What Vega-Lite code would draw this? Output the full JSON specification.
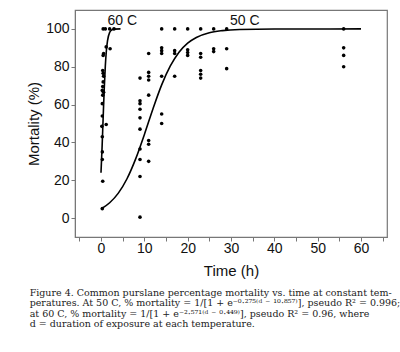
{
  "$schema": "https://vega.github.io/schema/vega-lite/v6.json",
  "width": 312,
  "height": 227,
  "autosize": {"type": "none"},
  "padding": {"left": 75, "top": 10, "right": 13, "bottom": 115},
  "background": "white",
  "config": {
    "view": {"stroke": "#777", "strokeWidth": 1.2},
    "font": "Liberation Sans"
  },
  "title": {
    "text": [
      "Figure 4. Common purslane percentage mortality vs. time at constant tem-",
      "peratures. At 50 C, % mortality = 1/[1 + e⁻⁰·²⁷⁵⁽ᵈ ⁻ ¹⁰·⁸⁵⁷⁾], pseudo R² = 0.996;",
      "at 60 C, % mortality = 1/[1 + e⁻²·⁵⁷¹⁽ᵈ ⁻ ⁰·⁴⁴⁹⁾], pseudo R² = 0.96, where",
      "d = duration of exposure at each temperature."
    ],
    "orient": "bottom",
    "anchor": "start",
    "frame": "bounds",
    "font": "DejaVu Serif",
    "fontSize": 9.5,
    "fontWeight": "normal",
    "lineHeight": 10.3,
    "color": "#222",
    "offset": 10,
    "dx": 3
  },
  "datasets": {
    "points": [
      {"time": 0.3, "mortality": 5, "temp": "50 C"},
      {"time": 9, "mortality": 74, "temp": "50 C"},
      {"time": 9, "mortality": 62, "temp": "50 C"},
      {"time": 9, "mortality": 60.5, "temp": "50 C"},
      {"time": 9, "mortality": 57.5, "temp": "50 C"},
      {"time": 9, "mortality": 53, "temp": "50 C"},
      {"time": 9, "mortality": 47, "temp": "50 C"},
      {"time": 9, "mortality": 36.5, "temp": "50 C"},
      {"time": 9, "mortality": 31, "temp": "50 C"},
      {"time": 9, "mortality": 22, "temp": "50 C"},
      {"time": 9, "mortality": 0.5, "temp": "50 C"},
      {"time": 11, "mortality": 87, "temp": "50 C"},
      {"time": 11, "mortality": 77, "temp": "50 C"},
      {"time": 11, "mortality": 75, "temp": "50 C"},
      {"time": 11, "mortality": 73, "temp": "50 C"},
      {"time": 11, "mortality": 65, "temp": "50 C"},
      {"time": 11, "mortality": 41, "temp": "50 C"},
      {"time": 11, "mortality": 39, "temp": "50 C"},
      {"time": 11, "mortality": 30, "temp": "50 C"},
      {"time": 14, "mortality": 100, "temp": "50 C"},
      {"time": 14, "mortality": 90, "temp": "50 C"},
      {"time": 14, "mortality": 88.5, "temp": "50 C"},
      {"time": 14, "mortality": 87, "temp": "50 C"},
      {"time": 14, "mortality": 75, "temp": "50 C"},
      {"time": 14, "mortality": 55, "temp": "50 C"},
      {"time": 14, "mortality": 50, "temp": "50 C"},
      {"time": 17, "mortality": 100, "temp": "50 C"},
      {"time": 17, "mortality": 88.5, "temp": "50 C"},
      {"time": 17, "mortality": 87, "temp": "50 C"},
      {"time": 17, "mortality": 75, "temp": "50 C"},
      {"time": 20, "mortality": 100, "temp": "50 C"},
      {"time": 20, "mortality": 89, "temp": "50 C"},
      {"time": 20, "mortality": 87.5, "temp": "50 C"},
      {"time": 20, "mortality": 86, "temp": "50 C"},
      {"time": 23, "mortality": 100, "temp": "50 C"},
      {"time": 23, "mortality": 87, "temp": "50 C"},
      {"time": 23, "mortality": 85, "temp": "50 C"},
      {"time": 23, "mortality": 78, "temp": "50 C"},
      {"time": 23, "mortality": 76, "temp": "50 C"},
      {"time": 23, "mortality": 74, "temp": "50 C"},
      {"time": 26, "mortality": 100, "temp": "50 C"},
      {"time": 26, "mortality": 89.5, "temp": "50 C"},
      {"time": 26, "mortality": 88, "temp": "50 C"},
      {"time": 29, "mortality": 100, "temp": "50 C"},
      {"time": 29, "mortality": 89.5, "temp": "50 C"},
      {"time": 29, "mortality": 79, "temp": "50 C"},
      {"time": 56, "mortality": 100, "temp": "50 C"},
      {"time": 56, "mortality": 90, "temp": "50 C"},
      {"time": 56, "mortality": 86, "temp": "50 C"},
      {"time": 56, "mortality": 80, "temp": "50 C"},
      {"time": 0.5, "mortality": 100, "temp": "60 C"},
      {"time": 1, "mortality": 100, "temp": "60 C"},
      {"time": 2, "mortality": 100, "temp": "60 C"},
      {"time": 3, "mortality": 100, "temp": "60 C"},
      {"time": 1.2, "mortality": 90.5, "temp": "60 C"},
      {"time": 2.1, "mortality": 89.5, "temp": "60 C"},
      {"time": 0.6, "mortality": 87, "temp": "60 C"},
      {"time": 0.5, "mortality": 86, "temp": "60 C"},
      {"time": 0.4, "mortality": 78, "temp": "60 C"},
      {"time": 0.5, "mortality": 76.5, "temp": "60 C"},
      {"time": 0.6, "mortality": 75, "temp": "60 C"},
      {"time": 0.5, "mortality": 72, "temp": "60 C"},
      {"time": 0.4, "mortality": 69.5, "temp": "60 C"},
      {"time": 0.3, "mortality": 67.5, "temp": "60 C"},
      {"time": 0.6, "mortality": 66.5, "temp": "60 C"},
      {"time": 0.4, "mortality": 65, "temp": "60 C"},
      {"time": 0.3, "mortality": 60.5, "temp": "60 C"},
      {"time": 0.3, "mortality": 54, "temp": "60 C"},
      {"time": 0.2, "mortality": 48.5, "temp": "60 C"},
      {"time": 1.2, "mortality": 49.5, "temp": "60 C"},
      {"time": 0.3, "mortality": 43, "temp": "60 C"},
      {"time": 0.3, "mortality": 35, "temp": "60 C"},
      {"time": 0.3, "mortality": 31, "temp": "60 C"},
      {"time": 0.4, "mortality": 19.5, "temp": "60 C"}
    ],
    "curve": [
      {"time": 0, "mortality": 4.8, "temp": "50 C"},
      {"time": 2, "mortality": 8.1, "temp": "50 C"},
      {"time": 4, "mortality": 13.2, "temp": "50 C"},
      {"time": 6, "mortality": 20.8, "temp": "50 C"},
      {"time": 8, "mortality": 31.3, "temp": "50 C"},
      {"time": 10, "mortality": 44.1, "temp": "50 C"},
      {"time": 12, "mortality": 57.8, "temp": "50 C"},
      {"time": 14, "mortality": 70.4, "temp": "50 C"},
      {"time": 16, "mortality": 80.4, "temp": "50 C"},
      {"time": 18, "mortality": 87.7, "temp": "50 C"},
      {"time": 20, "mortality": 92.5, "temp": "50 C"},
      {"time": 22, "mortality": 95.5, "temp": "50 C"},
      {"time": 25, "mortality": 98.0, "temp": "50 C"},
      {"time": 28, "mortality": 99.1, "temp": "50 C"},
      {"time": 32, "mortality": 99.7, "temp": "50 C"},
      {"time": 40, "mortality": 99.97, "temp": "50 C"},
      {"time": 60, "mortality": 100, "temp": "50 C"},
      {"time": 0, "mortality": 24.0, "temp": "60 C"},
      {"time": 0.25, "mortality": 37.5, "temp": "60 C"},
      {"time": 0.5, "mortality": 53.3, "temp": "60 C"},
      {"time": 0.75, "mortality": 68.4, "temp": "60 C"},
      {"time": 1, "mortality": 80.5, "temp": "60 C"},
      {"time": 1.25, "mortality": 88.7, "temp": "60 C"},
      {"time": 1.5, "mortality": 93.7, "temp": "60 C"},
      {"time": 2, "mortality": 98.2, "temp": "60 C"},
      {"time": 2.5, "mortality": 99.5, "temp": "60 C"},
      {"time": 3, "mortality": 99.9, "temp": "60 C"},
      {"time": 4.5, "mortality": 100, "temp": "60 C"}
    ],
    "labels": [
      {"time": 4.9, "mortality": 104, "label": "60 C"},
      {"time": 33.2, "mortality": 104, "label": "50 C"}
    ]
  },
  "resolve": {"axis": {"x": "independent"}},
  "layer": [
    {
      "data": {"name": "curve"},
      "mark": {"type": "line", "color": "black", "strokeWidth": 1.6, "interpolate": "monotone"},
      "encoding": {
        "x": {
          "field": "time", "type": "quantitative",
          "scale": {"domain": [-6, 66], "nice": false, "zero": false},
          "axis": {
            "orient": "bottom",
            "title": "Time (h)",
            "values": [0, 10, 20, 30, 40, 50, 60],
            "format": "d",
            "labelOverlap": false,
            "labelFlush": false,
            "grid": false,
            "domainColor": "#777",
            "tickColor": "#777",
            "tickSize": 4,
            "labelFontSize": 14,
            "labelColor": "#111",
            "labelPadding": 0,
            "titleFontSize": 15,
            "titleFontWeight": "normal",
            "titleColor": "#111",
            "titlePadding": 8
          }
        },
        "y": {
          "field": "mortality", "type": "quantitative",
          "scale": {"domain": [-10, 110], "nice": false, "zero": false},
          "axis": {
            "title": "Mortality (%)",
            "values": [0, 10, 20, 30, 40, 50, 60, 70, 80, 90, 100],
            "labelExpr": "datum.value % 20 == 0 ? datum.label : ''",
            "labelOverlap": false,
            "grid": false,
            "domainColor": "#777",
            "tickColor": "#777",
            "tickSize": 4,
            "labelFontSize": 14,
            "labelColor": "#111",
            "labelPadding": 2,
            "titleFontSize": 15,
            "titleFontWeight": "normal",
            "titleColor": "#111",
            "titlePadding": 4
          }
        },
        "detail": {"field": "temp"}
      }
    },
    {
      "data": {"name": "points"},
      "mark": {"type": "point", "shape": "circle", "filled": true, "color": "black", "size": 13, "opacity": 1},
      "encoding": {
        "x": {
          "field": "time", "type": "quantitative",
          "axis": {
            "orient": "bottom",
            "title": null,
            "values": [-5, 5, 15, 25, 35, 45, 55, 65],
            "labels": false,
            "domain": false,
            "grid": false,
            "tickColor": "#777",
            "tickSize": 4
          }
        },
        "y": {"field": "mortality", "type": "quantitative"}
      }
    },
    {
      "data": {"name": "labels"},
      "mark": {"type": "text", "fontSize": 14, "color": "#111", "baseline": "middle", "align": "center"},
      "encoding": {
        "x": {"field": "time", "type": "quantitative", "axis": null},
        "y": {"field": "mortality", "type": "quantitative"},
        "text": {"field": "label"}
      }
    }
  ]
}
